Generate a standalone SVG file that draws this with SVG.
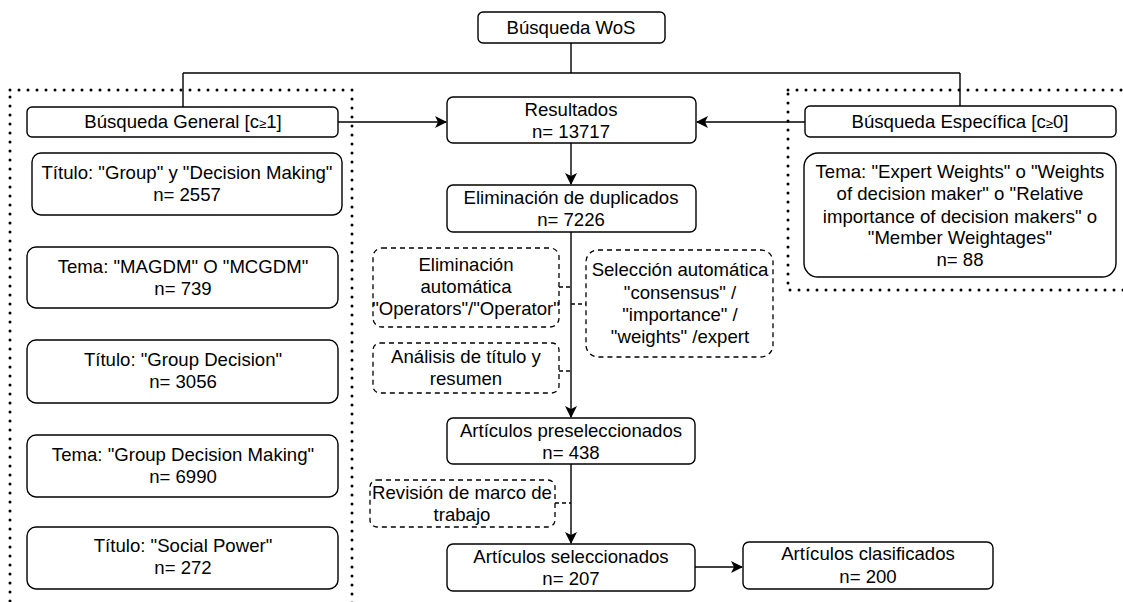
<svg xmlns="http://www.w3.org/2000/svg" width="1123" height="602" viewBox="0 0 1123 602">
  <defs>
    <marker id="arrow" viewBox="0 0 12 12" refX="11" refY="6" markerWidth="12" markerHeight="12" markerUnits="userSpaceOnUse" orient="auto">
      <path d="M0,0 L12,6 L0,12 L3,6 Z" fill="#000"/>
    </marker>
    <style>
      text { font-family: "Liberation Sans", Arial, Helvetica, sans-serif; font-size: 18.6px; fill: #000; text-anchor: middle; }
      .box { fill: #fff; stroke: #000; stroke-width: 1.4; }
      .dash { fill: #fff; stroke: #000; stroke-width: 1.3; stroke-dasharray: 5 4; }
      .group { fill: none; stroke: #000; stroke-width: 3; stroke-dasharray: 0 9; stroke-linecap: round; }
      .line { fill: none; stroke: #000; stroke-width: 1.4; }
      .arrow { fill: none; stroke: #000; stroke-width: 1.4; marker-end: url(#arrow); }
      .dline { fill: none; stroke: #000; stroke-width: 1.3; stroke-dasharray: 4 3; }
      .small { font-size: 13px; }
    </style>
  </defs>
  <rect width="1123" height="602" fill="#fff"/>

  <!-- dotted grouping frames -->
  <g id="frames">
    <rect class="group" x="10" y="90" width="342" height="530"/>
    <rect class="group" x="788" y="90" width="360" height="200"/>
  </g>

  <!-- connectors -->
  <g id="connectors">
    <path class="line" d="M571,43 V73 M183,73 H960 M183,73 V107 M960,73 V106"/>
    <path class="arrow" d="M338,122 H446"/>
    <path class="arrow" d="M805,122 H697"/>
    <path class="arrow" d="M571,143 V184"/>
    <path class="arrow" d="M571,232 V417"/>
    <path class="arrow" d="M571,464 V543"/>
    <path class="arrow" d="M695,567 H742"/>
    <path class="dline" d="M559,287 H571"/>
    <path class="dline" d="M571,304 H586"/>
    <path class="dline" d="M559,371 H571"/>
    <path class="dline" d="M555,503 H571"/>
  </g>

  <g id="busqueda-wos">
    <rect class="box" x="478" y="12" width="187" height="31" rx="5"/>
    <text x="571" y="34">Búsqueda WoS</text>
  </g>

  <g id="busqueda-general">
    <rect class="box" x="27" y="107" width="311" height="30" rx="5"/>
    <text x="183" y="128">Búsqueda General [c<tspan class="small">≥</tspan>1]</text>
  </g>

  <g id="titulo-group-dm">
    <rect class="box" x="32" y="153" width="310" height="62" rx="9"/>
    <text x="187" y="179">Título: "Group" y "Decision Making"</text>
    <text x="187" y="201">n= 2557</text>
  </g>

  <g id="tema-magdm">
    <rect class="box" x="27" y="247" width="311" height="61" rx="9"/>
    <text x="183" y="273">Tema: "MAGDM" O "MCGDM"</text>
    <text x="183" y="295">n= 739</text>
  </g>

  <g id="titulo-group-decision">
    <rect class="box" x="27" y="340" width="311" height="63" rx="9"/>
    <text x="183" y="366">Título: "Group Decision"</text>
    <text x="183" y="388">n= 3056</text>
  </g>

  <g id="tema-gdm">
    <rect class="box" x="27" y="435" width="311" height="62" rx="9"/>
    <text x="183" y="461">Tema: "Group Decision Making"</text>
    <text x="183" y="483">n= 6990</text>
  </g>

  <g id="titulo-social-power">
    <rect class="box" x="27" y="527" width="311" height="62" rx="9"/>
    <text x="183" y="552">Título: "Social Power"</text>
    <text x="183" y="574">n= 272</text>
  </g>

  <g id="resultados">
    <rect class="box" x="447" y="97" width="249" height="46" rx="6"/>
    <text x="571" y="116">Resultados</text>
    <text x="571" y="138">n= 13717</text>
  </g>

  <g id="busqueda-especifica">
    <rect class="box" x="805" y="106" width="311" height="31" rx="5"/>
    <text x="960" y="128">Búsqueda Específica [c<tspan class="small">≥</tspan>0]</text>
  </g>

  <g id="tema-expert-weights">
    <rect class="box" x="804" y="153" width="312" height="124" rx="14"/>
    <text x="960" y="178">Tema: "Expert Weights" o "Weights</text>
    <text x="960" y="200">of decision maker" o "Relative</text>
    <text x="960" y="223">importance of decision makers" o</text>
    <text x="960" y="244">"Member Weightages"</text>
    <text x="960" y="266">n= 88</text>
  </g>

  <g id="eliminacion-duplicados">
    <rect class="box" x="447" y="185" width="249" height="47" rx="6"/>
    <text x="571" y="204">Eliminación de duplicados</text>
    <text x="571" y="226">n= 7226</text>
  </g>

  <g id="eliminacion-automatica">
    <rect class="dash" x="373" y="248" width="186" height="79" rx="9"/>
    <text x="466" y="271">Eliminación</text>
    <text x="466" y="293">automática</text>
    <text x="466" y="315">"Operators"/"Operator"</text>
  </g>

  <g id="seleccion-automatica">
    <rect class="dash" x="586" y="250" width="187" height="107" rx="12"/>
    <text x="680" y="276">Selección automática</text>
    <text x="680" y="299">"consensus" /</text>
    <text x="680" y="321">"importance" /</text>
    <text x="680" y="343">"weights" /expert</text>
  </g>

  <g id="analisis-titulo">
    <rect class="dash" x="373" y="343" width="186" height="50" rx="7"/>
    <text x="466" y="363">Análisis de título y</text>
    <text x="466" y="385">resumen</text>
  </g>

  <g id="articulos-preseleccionados">
    <rect class="box" x="447" y="418" width="248" height="46" rx="6"/>
    <text x="571" y="437">Artículos preseleccionados</text>
    <text x="571" y="459">n= 438</text>
  </g>

  <g id="revision-marco">
    <rect class="dash" x="370" y="480" width="185" height="47" rx="7"/>
    <text x="462" y="499">Revisión de marco de</text>
    <text x="462" y="521">trabajo</text>
  </g>

  <g id="articulos-seleccionados">
    <rect class="box" x="447" y="544" width="248" height="47" rx="6"/>
    <text x="571" y="563">Artículos seleccionados</text>
    <text x="571" y="585">n= 207</text>
  </g>

  <g id="articulos-clasificados">
    <rect class="box" x="743" y="542" width="250" height="47" rx="6"/>
    <text x="868" y="560">Artículos clasificados</text>
    <text x="868" y="583">n= 200</text>
  </g>
</svg>
